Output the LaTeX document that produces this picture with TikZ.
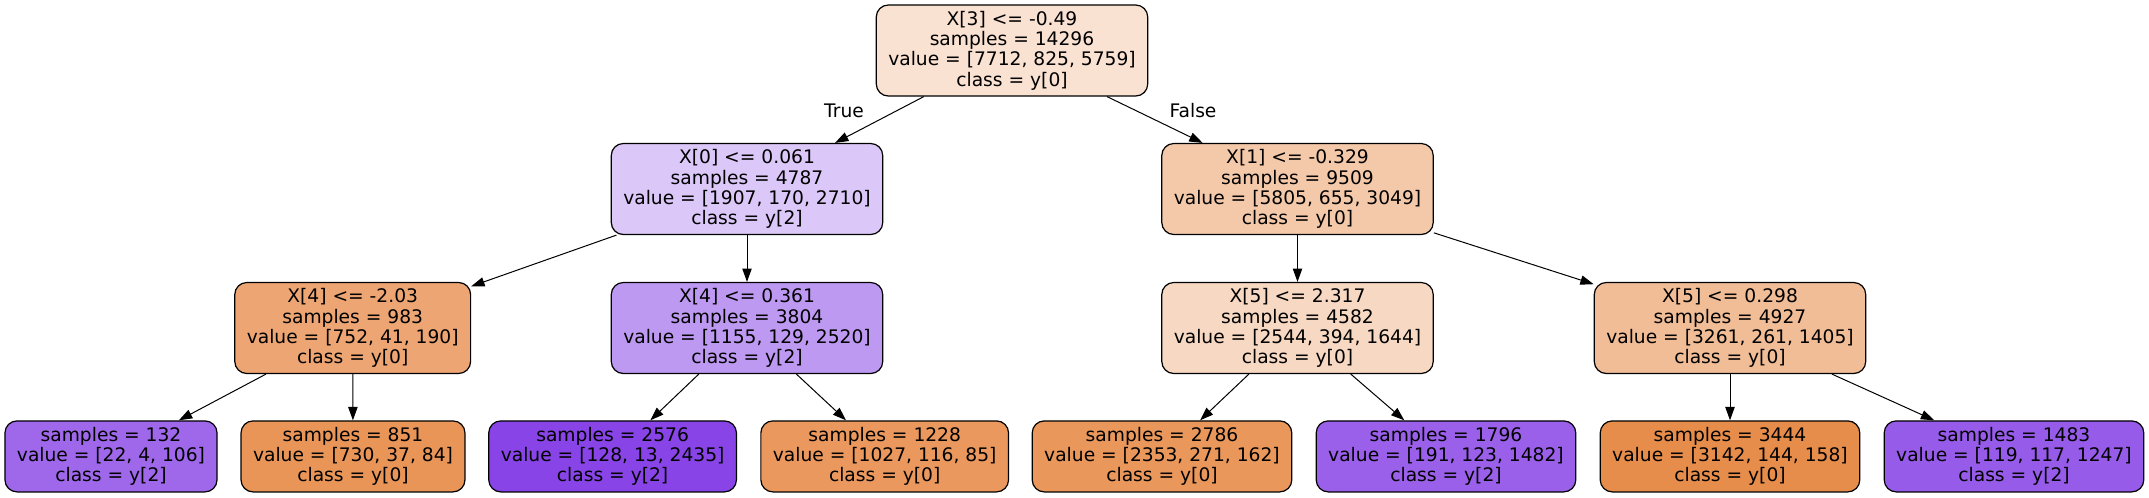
\documentclass[tikz,border=0pt]{standalone}
\usepackage{fontspec}
\setmainfont{DejaVu Sans}
\usetikzlibrary{arrows.meta}

\definecolor{cRoot}{RGB}{249,226,210}
\definecolor{cXzero}{RGB}{220,200,248}
\definecolor{cXone}{RGB}{244,201,170}
\definecolor{cXfourA}{RGB}{237,166,115}
\definecolor{cXfourB}{RGB}{190,153,242}
\definecolor{cXfiveA}{RGB}{247,216,194}
\definecolor{cXfiveB}{RGB}{241,189,151}
\definecolor{cLeafA}{RGB}{159,104,235}
\definecolor{cLeafB}{RGB}{233,149,88}
\definecolor{cLeafC}{RGB}{136,68,230}
\definecolor{cLeafD}{RGB}{234,152,93}
\definecolor{cLeafE}{RGB}{233,151,91}
\definecolor{cLeafF}{RGB}{154,96,234}
\definecolor{cLeafG}{RGB}{231,141,75}
\definecolor{cLeafH}{RGB}{151,91,234}

\tikzset{
	testnode/.style={draw, line width=0.9pt, rounded corners=9pt, align=center,
		font=\fontsize{14}{15.2}\selectfont, inner xsep=9pt, inner ysep=0pt,
		minimum height=68.25pt},
	leafnode/.style={testnode, minimum height=53.25pt},
	branch/.style={-{Triangle[length=10pt,width=7pt]}, line width=0.75pt},
	edgetext/.style={font=\fontsize{14}{15.2}\selectfont, inner sep=0pt}
}

\begin{document}
\begin{tikzpicture}[x=0.75pt, y=-0.75pt]
			%%%%% START %%%%%
			\useasboundingbox (0, 0) rectangle (2149, 497);
			
			\node[testnode, fill=cRoot] (root) at (1012, 50.5) {X[3] <= -0.49\\samples = 14296\\value = [7712, 825, 5759]\\class = y[0]};
			
			\node[testnode, fill=cXzero] (xzero) at (747, 189) {X[0] <= 0.061\\samples = 4787\\value = [1907, 170, 2710]\\class = y[2]};
			\node[testnode, fill=cXone] (xone) at (1297.5, 189) {X[1] <= -0.329\\samples = 9509\\value = [5805, 655, 3049]\\class = y[0]};
			
			\node[testnode, fill=cXfourA] (xfourA) at (352.7, 328) {X[4] <= -2.03\\samples = 983\\value = [752, 41, 190]\\class = y[0]};
			\node[testnode, fill=cXfourB] (xfourB) at (747, 328) {X[4] <= 0.361\\samples = 3804\\value = [1155, 129, 2520]\\class = y[2]};
			\node[testnode, fill=cXfiveA] (xfiveA) at (1297.5, 328) {X[5] <= 2.317\\samples = 4582\\value = [2544, 394, 1644]\\class = y[0]};
			\node[testnode, fill=cXfiveB] (xfiveB) at (1730, 328) {X[5] <= 0.298\\samples = 4927\\value = [3261, 261, 1405]\\class = y[0]};
			
			\node[leafnode, fill=cLeafA] (leafA) at (111, 456.4) {samples = 132\\value = [22, 4, 106]\\class = y[2]};
			\node[leafnode, fill=cLeafB] (leafB) at (353, 456.4) {samples = 851\\value = [730, 37, 84]\\class = y[0]};
			\node[leafnode, fill=cLeafC] (leafC) at (612.6, 456.4) {samples = 2576\\value = [128, 13, 2435]\\class = y[2]};
			\node[leafnode, fill=cLeafD] (leafD) at (884.7, 456.4) {samples = 1228\\value = [1027, 116, 85]\\class = y[0]};
			\node[leafnode, fill=cLeafE] (leafE) at (1162, 456.4) {samples = 2786\\value = [2353, 271, 162]\\class = y[0]};
			\node[leafnode, fill=cLeafF] (leafF) at (1446, 456.4) {samples = 1796\\value = [191, 123, 1482]\\class = y[2]};
			\node[leafnode, fill=cLeafG] (leafG) at (1730, 456.4) {samples = 3444\\value = [3142, 144, 158]\\class = y[0]};
			\node[leafnode, fill=cLeafH] (leafH) at (2014, 456.4) {samples = 1483\\value = [119, 117, 1247]\\class = y[2]};
			
			\draw[branch] (root) -- (xzero);
			\draw[branch] (root) -- (xone);
			\node[edgetext] (truetext) at (844, 111) {True};
			\node[edgetext] (falsetext) at (1193, 111) {False};
			
			\draw[branch] (xzero) -- (xfourA);
			\draw[branch] (xzero) -- (xfourB);
			\draw[branch] (xone) -- (xfiveA);
			\draw[branch] (xone) -- (xfiveB);
			
			\draw[branch] (xfourA) -- (leafA);
			\draw[branch] (xfourA) -- (leafB);
			\draw[branch] (xfourB) -- (leafC);
			\draw[branch] (xfourB) -- (leafD);
			\draw[branch] (xfiveA) -- (leafE);
			\draw[branch] (xfiveA) -- (leafF);
			\draw[branch] (xfiveB) -- (leafG);
			\draw[branch] (xfiveB) -- (leafH);
			
			%%%%% END %%%%%
\end{tikzpicture}
\end{document}
